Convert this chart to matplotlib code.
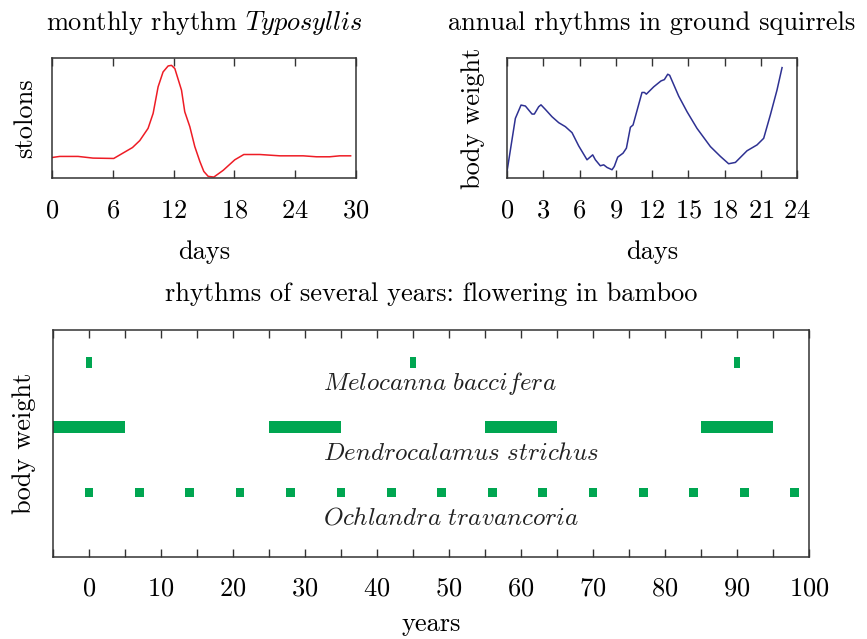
import matplotlib
matplotlib.use("Agg")
import matplotlib.pyplot as plt

plt.rcParams['font.family'] = 'cmr10'
plt.rcParams['mathtext.fontset'] = 'cm'
plt.rcParams['axes.formatter.use_mathtext'] = True

# -----------------------------------------------------------------------------
# Data
# -----------------------------------------------------------------------------
# monthly rhythm (Typosyllis): stolons vs days
stolon_days = [0.0, 0.76, 2.57, 4.05, 6.09, 7.94, 8.66, 9.48, 9.98, 10.47,
               10.96, 11.46, 11.79, 12.12, 12.78, 13.1, 13.6, 14.09, 14.59,
               14.98, 15.41, 15.97, 16.89, 18.04, 18.93, 20.51, 22.49, 24.79,
               26.1, 27.4, 28.4, 29.47]
stolons = [0.171, 0.18, 0.18, 0.166, 0.163, 0.254, 0.312, 0.414, 0.539, 0.76,
           0.884, 0.934, 0.939, 0.912, 0.732, 0.552, 0.428, 0.262, 0.138,
           0.055, 0.014, 0.008, 0.064, 0.152, 0.196, 0.196, 0.185, 0.185,
           0.177, 0.177, 0.185, 0.185]

# annual rhythm in ground squirrels: body weight vs days
squirrel_days = [0.0, 0.69, 1.16, 1.52, 2.07, 2.26, 2.62, 2.81, 3.17, 3.72,
                 4.28, 4.83, 5.38, 5.93, 6.62, 7.09, 7.31, 7.72, 8.0, 8.28,
                 8.69, 8.88, 9.16, 9.6, 9.88, 10.21, 10.43, 11.17, 11.37,
                 11.53, 12.14, 12.74, 13.02, 13.3, 13.46, 14.21, 14.9, 15.72,
                 16.83, 17.66, 18.34, 18.9, 19.86, 20.69, 21.24, 21.79, 22.34,
                 22.76]
body_weight = [0.055, 0.497, 0.608, 0.6, 0.533, 0.533, 0.594, 0.61, 0.572,
               0.511, 0.461, 0.428, 0.378, 0.268, 0.152, 0.193, 0.152, 0.102,
               0.11, 0.088, 0.069, 0.097, 0.174, 0.207, 0.249, 0.423, 0.442,
               0.713, 0.713, 0.699, 0.76, 0.809, 0.82, 0.865, 0.856, 0.682,
               0.552, 0.414, 0.262, 0.18, 0.119, 0.13, 0.227, 0.276, 0.331,
               0.525, 0.732, 0.92]

# flowering in bamboo (years)
melocanna_years = [0, 45, 90]
dendro_start = [-5, 25, 55, 85]
dendro_len = [10, 10, 10, 10]
ochlandra_years = [0, 7, 14, 21, 28, 35, 42, 49, 56, 63, 70, 77, 84, 91, 98]

species = ['Melocanna\\ baccifera', 'Dendrocalamus\\ strichus',
           'Ochlandra\\ travancoria']
rows = [3, 2, 1]

green = '#00a651'
spine_col = '#333333'
FS = 19


def style_axes(ax, pad=15):
    for s in ax.spines.values():
        s.set_color(spine_col)
        s.set_linewidth(1.1)
    ax.tick_params(axis='x', which='both', direction='in', top=True,
                   length=6, width=1.0, color=spine_col, labelsize=19, pad=pad)
    ax.set_yticks([])


fig = plt.figure(figsize=(8.67, 6.39), dpi=100)

# -----------------------------------------------------------------------------
# monthly rhythm
# -----------------------------------------------------------------------------
ax1 = fig.add_axes([0.060, 0.7214, 0.3506, 0.1878])
ax1.plot(stolon_days, stolons, color='#ee1c25', lw=1.1)
ax1.set_xlim(0, 30)
ax1.set_ylim(0, 1)
ax1.set_xticks([0, 6, 12, 18, 24, 30])
style_axes(ax1)
ax1.set_xlabel('days', fontsize=FS, labelpad=13)
ax1.set_ylabel('stolons', fontsize=FS, labelpad=11)
ax1.set_title(r'monthly rhythm $\mathit{Typosyllis}$', fontsize=FS, pad=20)

# -----------------------------------------------------------------------------
# annual rhythm
# -----------------------------------------------------------------------------
ax2 = fig.add_axes([0.5848, 0.7214, 0.3345, 0.1878])
ax2.plot(squirrel_days, body_weight, color='#2e3192', lw=1.1)
ax2.set_xlim(0, 24)
ax2.set_ylim(0, 1)
ax2.set_xticks(range(0, 25, 3))
style_axes(ax2)
ax2.set_xlabel('days', fontsize=FS, labelpad=13)
ax2.set_ylabel('body weight', fontsize=FS, labelpad=16)
ax2.set_title('annual rhythms in ground squirrels', fontsize=FS, pad=20)

# -----------------------------------------------------------------------------
# bamboo flowering
# -----------------------------------------------------------------------------
ax3 = fig.add_axes([0.0611, 0.1283, 0.872, 0.3552])
ax3.broken_barh([(x - 0.45, 0.9) for x in melocanna_years], (rows[0] - 0.09, 0.18),
                facecolors=green)
ax3.broken_barh(list(zip(dendro_start, dendro_len)), (rows[1] - 0.09, 0.18),
                facecolors=green)
ax3.broken_barh([(x - 0.6, 1.2) for x in ochlandra_years], (rows[2] - 0.07, 0.14),
                facecolors=green)
label_drop = [0.43, 0.5, 0.5]
for name, r, d in zip(species, rows, label_drop):
    ax3.text(32.5, r - d, r'$\mathit{%s}$' % name, fontsize=18,
             ha='left', va='baseline', color='#222222')
ax3.set_xlim(-5, 100)
ax3.set_ylim(0, 3.5)
ax3.set_xticks(range(0, 101, 10))
ax3.set_xticks(range(-5, 101, 5), minor=True)
style_axes(ax3, pad=14)
ax3.set_xlabel('years', fontsize=FS, labelpad=9)
ax3.set_ylabel('body weight', fontsize=FS, labelpad=12)
ax3.set_title('rhythms of several years: flowering in bamboo', fontsize=FS,
              pad=21)

plt.savefig('out.png', dpi=100)
